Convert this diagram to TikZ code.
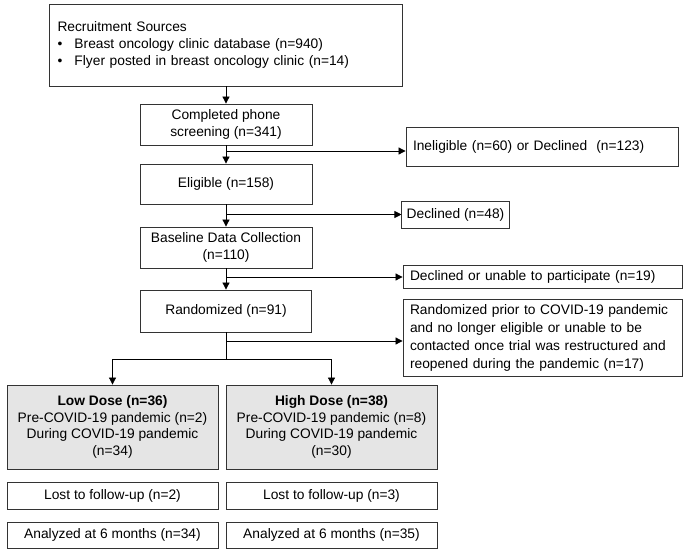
\documentclass[tikz,border=0pt]{standalone}
\usepackage{fontspec}
\setmainfont{Liberation Sans}
\usepackage{tikz}
\usetikzlibrary{shapes.geometric,arrows.meta}
\tikzstyle{stage} = [rectangle,
minimum width=4.3cm,
minimum height=1cm,
text centered,
draw=black!80,
line width=0.6pt,
fill=white]
\tikzstyle{excl} = [rectangle,
align=left,
inner xsep=0.175cm,
draw=black!80,
line width=0.6pt,
fill=white]
\tikzstyle{arm} = [stage, minimum width=5.275cm]
\tikzstyle{arrow} = [line width=0.6pt,->,>={Stealth[length=5pt,width=5pt,inset=0pt]}]
\tikzstyle{link} = [line width=0.6pt]

\begin{document}
\begin{tikzpicture}[font=\fontsize{9.8}{11.8}\selectfont]
				\useasboundingbox (0,0) rectangle (17.125,-13.8);

				\node[excl, text width=8.425cm, inner xsep=0.2cm, minimum height=2.05cm] (rec-s) at (5.65,-1.125)
					{Recruitment Sources\\
					\makebox[0.425cm][l]{\textbullet}Breast oncology clinic database (n=940)\\
					\makebox[0.425cm][l]{\textbullet}Flyer posted in breast oncology clinic (n=14)};
				\node[stage, align=center, minimum height=1.025cm] (c-p-s) at (5.65,-3.1125) {Completed phone\\screening (n=341)};
				\node[stage] (elig) at (5.65,-4.6) {Eligible (n=158)};
				\node[stage, align=center, minimum height=1.025cm] (b-d-c) at (5.65,-6.1875) {Baseline Data Collection\\(n=110)};
				\node[stage, minimum width=4.275cm, minimum height=1.05cm] (rand) at (5.65,-7.775) {Randomized (n=91)};

				\node[excl, text width=6.45cm, minimum height=0.975cm] (inel) at (13.55,-3.6625) {Ineligible (n=60) or Declined \ (n=123)};
				\node[excl, inner xsep=0.12cm, minimum width=2.575cm, minimum height=0.675cm] (decl) at (11.3875,-5.3625) {Declined (n=48)};
				\node[excl, text width=6.625cm, minimum height=0.575cm, inner ysep=0pt] (d-u) at (13.5625,-6.9125) {Declined or unable to participate (n=19)};
				\node[excl, text width=6.625cm, minimum height=1.9cm, font=\fontsize{9.8}{13}\selectfont] (r-p) at (13.5625,-8.45)
					{Randomized prior to COVID-19 pandemic\\
					and no longer eligible or unable to be\\
					contacted once trial was restructured and\\
					reopened during the pandemic (n=17)};

				\node[arm, align=center, fill=black!10, minimum height=2.1cm] (low-d) at (2.8125,-10.675)
					{\textbf{Low Dose (n=36)}\\Pre-COVID-19 pandemic (n=2)\\During COVID-19 pandemic\\(n=34)};
				\node[arm, align=center, fill=black!10, minimum height=2.1cm] (high-d) at (8.2875,-10.675)
					{\textbf{High Dose (n=38)}\\Pre-COVID-19 pandemic (n=8)\\During COVID-19 pandemic\\(n=30)};
				\node[arm, minimum height=0.675cm] (lost-l) at (2.8125,-12.3875) {Lost to follow-up (n=2)};
				\node[arm, minimum height=0.675cm] (lost-h) at (8.2875,-12.3875) {Lost to follow-up (n=3)};
				\node[arm, minimum height=0.65cm] (an-l) at (2.8125,-13.375) {Analyzed at 6 months (n=34)};
				\node[arm, minimum height=0.65cm] (an-h) at (8.2875,-13.375) {Analyzed at 6 months (n=35)};

				\coordinate (j1) at (5.65,-3.775);
				\coordinate (j2) at (5.65,-5.3625);
				\coordinate (j3) at (5.65,-6.925);
				\coordinate (j4) at (5.65,-8.525);
				\coordinate (split) at (5.65,-8.975);

				\draw[arrow] (rec-s) -- (c-p-s);
				\draw[arrow] (c-p-s) -- (elig);
				\draw[arrow] (elig) -- (b-d-c);
				\draw[arrow] (b-d-c) -- (rand);
				\draw[link] (rand) -- (split);
				\draw[arrow] (j1) -- (j1 -| inel.west);
				\draw[arrow] (j2) -- (decl);
				\draw[arrow] (j3) -- (j3 -| d-u.west);
				\draw[arrow] (j4) -- (j4 -| r-p.west);
				\draw[arrow] (split) -| (low-d);
				\draw[arrow] (split) -| (high-d);
			\end{tikzpicture}
\end{document}
